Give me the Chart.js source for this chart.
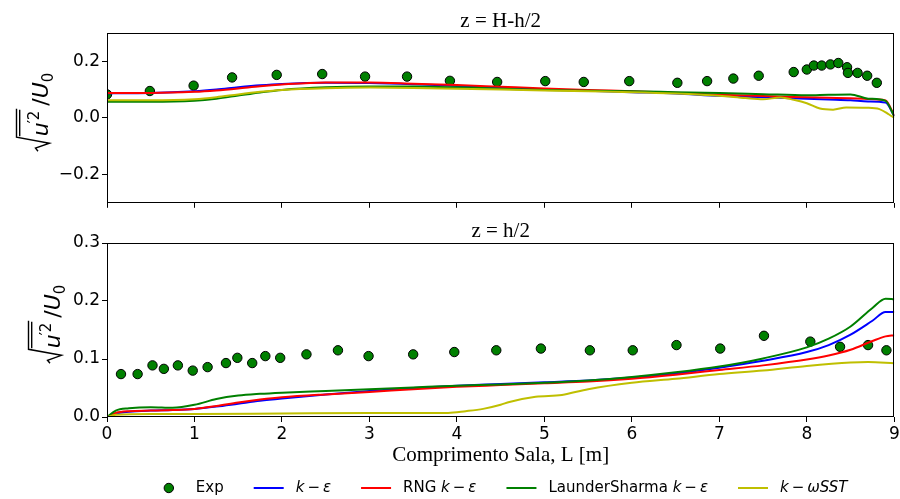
<!DOCTYPE html>
<html>
<head>
<meta charset="utf-8">
<script src="https://cdn.jsdelivr.net/npm/chart.js@4.4.0/dist/chart.umd.min.js"></script>
<style>
  html, body { margin: 0; padding: 0; background: #fff; }
  #wrap { position: relative; width: 900px; height: 499px; overflow: hidden; background: #fff; }
  canvas { position: absolute; left: 0; }
  #cTop { top: 0; }
  #cBot { top: 210px; }
</style>
</head>
<body>
<div id="wrap">
  <canvas id="cTop" width="900" height="215"></canvas>
  <canvas id="cBot" width="900" height="289"></canvas>
</div>
<script>
// ---- axis ticks ----
const xTicks = [0, 1, 2, 3, 4, 5, 6, 7, 8, 9];
const topYTicks = [-0.2, 0.0, 0.2];
const botYTicks = [0.0, 0.1, 0.2, 0.3];

// ---- panel titles / axis title ----
const topTitle = 'z = H-h/2';
const botTitle = 'z = h/2';
const xTitle = 'Comprimento Sala, L [m]';

// ---- series names ----
const seriesNames = ['Exp', 'k \u2212 \u03b5', 'RNG k \u2212 \u03b5', 'LaunderSharma k \u2212 \u03b5', 'k \u2212 \u03c9SST'];

// ---- upper panel: z = H-h/2 ----
const topExpX = [0, 0.49, 0.99, 1.43, 1.94, 2.46, 2.95, 3.43, 3.92, 4.46, 5.01, 5.45, 5.97, 6.52, 6.86, 7.16, 7.45, 7.85, 8.00, 8.08, 8.17, 8.27, 8.36, 8.46, 8.47, 8.58, 8.69, 8.80];
const topExpY = [0.083, 0.095, 0.114, 0.143, 0.152, 0.155, 0.146, 0.146, 0.131, 0.127, 0.130, 0.127, 0.130, 0.124, 0.130, 0.139, 0.149, 0.162, 0.171, 0.185, 0.185, 0.189, 0.194, 0.179, 0.159, 0.159, 0.149, 0.124];

const topModelX = [0, 0.5, 1.0, 1.25, 1.5, 1.75, 2.0, 2.5, 3.0, 3.5, 4.0, 4.5, 5.0, 5.5, 6.0, 6.5, 7.0, 7.5, 8.0, 8.25, 8.5, 8.7, 8.9, 9.0];
const topKe  = [0.087, 0.088, 0.094, 0.100, 0.108, 0.115, 0.120, 0.124, 0.123, 0.119, 0.113, 0.107, 0.101, 0.096, 0.091, 0.086, 0.078, 0.073, 0.068, 0.065, 0.062, 0.058, 0.054, 0.006];
const topRng = [0.088, 0.088, 0.092, 0.097, 0.104, 0.112, 0.118, 0.125, 0.125, 0.121, 0.116, 0.110, 0.104, 0.099, 0.094, 0.089, 0.082, 0.077, 0.073, 0.071, 0.069, 0.067, 0.062, 0.008];
const topLs  = [0.057, 0.057, 0.061, 0.068, 0.079, 0.090, 0.099, 0.108, 0.111, 0.111, 0.108, 0.103, 0.099, 0.096, 0.094, 0.091, 0.088, 0.084, 0.080, 0.082, 0.083, 0.068, 0.060, 0.005];

const topSstX = [0, 0.5, 1.0, 1.25, 1.5, 1.75, 2.0, 2.5, 3.0, 3.5, 4.0, 4.5, 5.0, 5.5, 6.0, 6.5, 7.0, 7.3, 7.5, 7.7, 7.85, 8.0, 8.15, 8.3, 8.45, 8.68, 8.83, 8.94, 9.0];
const topSstY = [0.062, 0.062, 0.066, 0.073, 0.083, 0.092, 0.099, 0.105, 0.107, 0.106, 0.103, 0.100, 0.097, 0.094, 0.091, 0.086, 0.078, 0.070, 0.066, 0.072, 0.064, 0.052, 0.033, 0.029, 0.037, 0.036, 0.031, 0.012, 0.0];

// ---- lower panel: z = h/2 ----
const botExpX = [0.16, 0.35, 0.52, 0.65, 0.81, 0.98, 1.15, 1.36, 1.49, 1.66, 1.81, 1.98, 2.28, 2.64, 2.99, 3.50, 3.97, 4.45, 4.96, 5.52, 6.01, 6.51, 7.01, 7.51, 8.04, 8.38, 8.70, 8.91];
const botExpY = [0.074, 0.074, 0.089, 0.083, 0.089, 0.080, 0.086, 0.093, 0.102, 0.093, 0.105, 0.102, 0.108, 0.115, 0.105, 0.108, 0.112, 0.115, 0.118, 0.115, 0.115, 0.124, 0.118, 0.140, 0.130, 0.121, 0.124, 0.115];

const botModelX = [0, 0.1, 0.25, 0.5, 0.75, 1.0, 1.25, 1.5, 1.75, 2.0, 2.5, 3.0, 3.5, 4.0, 4.5, 5.0, 5.5, 6.0, 6.5, 7.0, 7.5, 8.0, 8.25, 8.5, 8.75, 8.9, 9.0];
const botKe  = [0, 0.006, 0.009, 0.011, 0.012, 0.014, 0.018, 0.023, 0.028, 0.032, 0.039, 0.045, 0.050, 0.054, 0.057, 0.060, 0.063, 0.068, 0.075, 0.085, 0.097, 0.112, 0.124, 0.142, 0.166, 0.181, 0.181];
const botRng = [0, 0.007, 0.010, 0.011, 0.012, 0.014, 0.019, 0.025, 0.030, 0.034, 0.039, 0.043, 0.048, 0.052, 0.055, 0.058, 0.061, 0.066, 0.073, 0.081, 0.089, 0.099, 0.106, 0.116, 0.131, 0.139, 0.141];
const botLs  = [0, 0.011, 0.015, 0.017, 0.016, 0.021, 0.031, 0.037, 0.040, 0.042, 0.045, 0.048, 0.051, 0.054, 0.056, 0.059, 0.063, 0.069, 0.077, 0.087, 0.101, 0.120, 0.135, 0.156, 0.188, 0.204, 0.203];

const botSstX = [0, 0.1, 0.5, 1.0, 2.0, 3.0, 3.5, 3.9, 4.1, 4.3, 4.5, 4.6, 4.9, 5.2, 5.5, 6.0, 6.5, 7.0, 7.5, 8.0, 8.5, 8.7, 9.0];
const botSstY = [0, 0.004, 0.005, 0.005, 0.006, 0.007, 0.007, 0.007, 0.010, 0.014, 0.021, 0.026, 0.035, 0.038, 0.048, 0.059, 0.066, 0.074, 0.080, 0.088, 0.094, 0.095, 0.0925];

// ---- styling ----
const COL = { exp: '#008000', ke: '#0000ff', rng: '#ff0000', ls: '#008000', sst: '#bfbf00' };
const TICK_FONT = { family: "'DejaVu Sans'", size: 17 };
const SERIF = "'Liberation Serif', 'Times New Roman', serif";
const SANS = "'DejaVu Sans'";

const pts = (xs, ys) => xs.map((x, i) => ({ x, y: ys[i] }));
const fmtY = v => (Math.abs(v) < 1e-9 ? '0.0' : v.toFixed(1).replace('-', '\u2212'));

// legend entries, label split into upright / italic pieces (math-style)
const legendParts = [
  [['Exp', false]],
  [['k', true], ['\u2212', false], ['\u03b5', true]],
  [['RNG ', false], ['k', true], ['\u2212', false], ['\u03b5', true]],
  [['LaunderSharma ', false], ['k', true], ['\u2212', false], ['\u03b5', true]],
  [['k', true], ['\u2212', false], ['\u03c9SST', true]]
];
const legendColors = [COL.exp, COL.ke, COL.rng, COL.ls, COL.sst];

function drawParts(ctx, parts, x, y, fs, doDraw) {
  let cx = x;
  parts.forEach(([t, it]) => {
    ctx.font = (it ? 'italic ' : '') + fs + 'px ' + SANS;
    const gap = t === '\u2212' ? 3 : 0;
    cx += gap;
    if (doDraw) ctx.fillText(t, cx, y);
    cx += ctx.measureText(t).width + gap;
  });
  return cx - x;
}

function drawLegend(ctx, centerX, cy) {
  const fs = 15, handle = 2 * fs, tpad = 0.8 * fs, colSp = 2 * fs;
  ctx.save();
  ctx.textBaseline = 'middle';
  ctx.fillStyle = '#000';
  const widths = legendParts.map(p => drawParts(ctx, p, 0, 0, fs, false));
  const total = widths.reduce((s, w) => s + handle + tpad + w, 0) + colSp * (widths.length - 1);
  let x = centerX - total / 2;
  legendParts.forEach((p, i) => {
    if (i === 0) {
      ctx.beginPath();
      ctx.arc(x + handle / 2, cy, 4.7, 0, Math.PI * 2);
      ctx.fillStyle = COL.exp; ctx.fill();
      ctx.lineWidth = 1; ctx.strokeStyle = '#000'; ctx.stroke();
    } else {
      ctx.beginPath();
      ctx.moveTo(x, cy); ctx.lineTo(x + handle, cy);
      ctx.lineWidth = 2; ctx.strokeStyle = legendColors[i]; ctx.stroke();
    }
    ctx.fillStyle = '#000';
    drawParts(ctx, p, x + handle + tpad, cy, fs, true);
    x += handle + tpad + widths[i] + colSp;
  });
  ctx.restore();
}

// rotated y label: sqrt(overline(u'^2)) / U_0
function drawYLabel(ctx, bx, cy) {
  const F = 22, S = 15;
  const big = F + 'px ' + SANS, bigI = 'italic ' + F + 'px ' + SANS;
  const sm = S + 'px ' + SANS;
  ctx.save();
  ctx.font = bigI; const wu = ctx.measureText('u').width, wU = ctx.measureText('U').width;
  ctx.font = sm; const wp = ctx.measureText('\u2032').width, w2 = ctx.measureText('2').width, w0 = ctx.measureText('0').width;
  ctx.font = big; const ws = ctx.measureText('/').width;
  const radW = 15;
  const innerW = wu + wp * 0.6 + w2 + 2;
  const total = radW + innerW + 3 + ws + wU + w0;
  ctx.translate(bx, cy);
  ctx.rotate(-Math.PI / 2);
  ctx.fillStyle = '#000'; ctx.strokeStyle = '#000';
  ctx.textBaseline = 'alphabetic';
  let x = 6 - total / 2;
  ctx.lineWidth = 1.4;
  ctx.beginPath();
  ctx.moveTo(x, -10); ctx.lineTo(x + 3, -12.5); ctx.lineTo(x + 8, 1.5); ctx.lineTo(x + 14, -31.5);
  ctx.lineTo(x + radW + innerW, -31.5);
  ctx.stroke();
  ctx.beginPath();
  ctx.moveTo(x + radW, -28.3); ctx.lineTo(x + radW + innerW - 1, -28.3);
  ctx.stroke();
  x += radW;
  ctx.font = bigI; ctx.fillText('u', x, 0); x += wu;
  ctx.font = sm; ctx.fillText('\u2032', x - 1, -9); x += wp * 0.6;
  ctx.fillText('2', x, -9); x += w2 + 2 + 3;
  ctx.font = big; ctx.fillText('/', x, 0); x += ws;
  ctx.font = bigI; ctx.fillText('U', x, 0); x += wU;
  ctx.font = sm; ctx.fillText('0', x, 5);
  ctx.restore();
}

// frame, panel title, y label and (lower panel) legend
const panelDeco = {
  id: 'panelDeco',
  afterDatasetsDraw(chart) {
    const { ctx, chartArea: a } = chart;
    ctx.save();
    ctx.strokeStyle = '#000';
    ctx.lineWidth = 1;
    const l = Math.round(a.left) + 0.5, t = Math.round(a.top) + 0.5;
    const r = Math.round(a.right) - 0.5, b = Math.round(a.bottom) - 0.5;
    ctx.strokeRect(l, t, r - l, b - t);
    ctx.restore();
  },
  afterDraw(chart, args, o) {
    const { ctx, chartArea: a } = chart;
    ctx.save();
    ctx.fillStyle = '#000';
    ctx.font = '21px ' + SERIF;
    ctx.textAlign = 'center';
    ctx.textBaseline = 'alphabetic';
    ctx.fillText(o.title, (a.left + a.right) / 2, a.top - 6.5);
    ctx.restore();
    drawYLabel(ctx, o.labelX, (a.top + a.bottom) / 2);
    if (o.legend) drawLegend(ctx, (a.left + a.right) / 2, o.legendY);
  }
};

function makeDatasets(expX, expY, mX, ke, rng, ls, sX, sY) {
  const line = (label, data, color, order) => ({
    label, data, showLine: true, borderColor: color, backgroundColor: color,
    borderWidth: 2, pointRadius: 0, cubicInterpolationMode: 'monotone', order
  });
  return [
    { label: seriesNames[0], data: pts(expX, expY), showLine: false, pointRadius: 4.7,
      pointBackgroundColor: COL.exp, pointBorderColor: '#000', pointBorderWidth: 1, order: 5, clip: 0 },
    line(seriesNames[1], pts(mX, ke), COL.ke, 4),
    line(seriesNames[2], pts(mX, rng), COL.rng, 3),
    line(seriesNames[3], pts(mX, ls), COL.ls, 2),
    line(seriesNames[4], pts(sX, sY), COL.sst, 1)
  ];
}

function makeOptions(cfg) {
  return {
    responsive: false,
    animation: false,
    events: [],
    layout: { padding: { left: 0, right: cfg.padRight, top: 33, bottom: cfg.padBottom } },
    plugins: {
      legend: { display: false },
      tooltip: { enabled: false },
      title: { display: false },
      panelDeco: { title: cfg.title, labelX: cfg.labelX, legend: cfg.legend, legendY: cfg.legendY }
    },
    scales: {
      x: {
        type: 'linear', min: 0, max: 9,
        afterBuildTicks: s => { s.ticks = xTicks.map(v => ({ value: v })); },
        afterFit: s => { s.height = cfg.xAxisH; s.paddingRight = 0; },
        border: { display: false },
        grid: { display: true, drawOnChartArea: false, drawTicks: true, tickLength: 5, color: '#000', lineWidth: 1 },
        ticks: { display: cfg.xLabels, font: TICK_FONT, color: '#000', padding: 2, maxRotation: 0, autoSkip: false,
                 callback: v => String(v) },
        title: { display: cfg.xLabels, text: xTitle, color: '#000',
                 font: { family: SERIF, size: 21, lineHeight: 1.2 }, padding: { top: 0, bottom: 11.4 } }
      },
      y: {
        type: 'linear', min: cfg.yMin, max: cfg.yMax,
        afterBuildTicks: s => { s.ticks = cfg.yTicks.map(v => ({ value: v })); },
        afterFit: s => { s.width = 107; },
        border: { display: false },
        grid: { display: true, drawOnChartArea: false, drawTicks: true, tickLength: 5, color: '#000', lineWidth: 1 },
        ticks: { font: TICK_FONT, color: '#000', padding: 2, callback: v => fmtY(v) }
      }
    }
  };
}

new Chart(document.getElementById('cTop'), {
  type: 'scatter',
  data: { datasets: makeDatasets(topExpX, topExpY, topModelX, topKe, topRng, topLs, topSstX, topSstY) },
  options: makeOptions({ title: topTitle, yMin: -0.3, yMax: 0.3, yTicks: topYTicks, xLabels: false,
                         xAxisH: 8, padBottom: 0, padRight: 5, labelX: 48, legend: false }),
  plugins: [panelDeco]
});

new Chart(document.getElementById('cBot'), {
  type: 'scatter',
  data: { datasets: makeDatasets(botExpX, botExpY, botModelX, botKe, botRng, botLs, botSstX, botSstY) },
  options: makeOptions({ title: botTitle, yMin: 0, yMax: 0.3, yTicks: botYTicks, xLabels: true,
                         xAxisH: 62, padBottom: 20, padRight: 5, labelX: 60, legend: true, legendY: 278 }),
  plugins: [panelDeco]
});
</script>
</body>
</html>
